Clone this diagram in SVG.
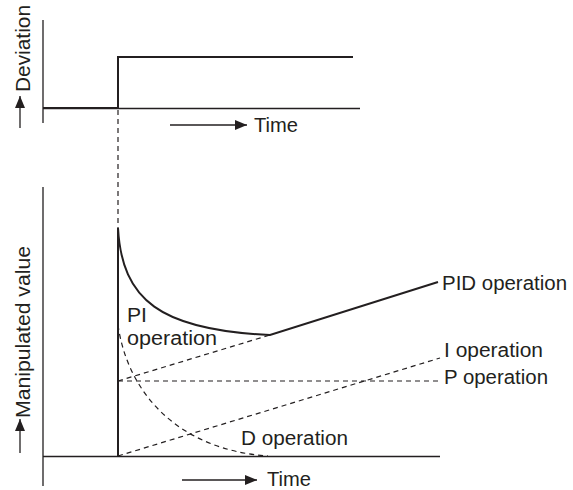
<svg xmlns="http://www.w3.org/2000/svg" width="573" height="490" viewBox="0 0 573 490">
  <defs>
    <marker id="arrow" viewBox="0 0 12 10" refX="12" refY="5" markerWidth="12" markerHeight="10" markerUnits="userSpaceOnUse" orient="auto">
      <path d="M0,0 L12,5 L0,10 Z" fill="#231f20"/>
    </marker>
  </defs>
  <style>
    .axis { stroke: #231f20; stroke-width: 1.3; fill: none; }
    .bold { stroke: #231f20; stroke-width: 2; fill: none; }
    .dash { stroke: #231f20; stroke-width: 1.2; fill: none; stroke-dasharray: 5 4; }
    .ptr { stroke: #231f20; stroke-width: 1.3; fill: none; marker-end: url(#arrow); }
    text { font-family: "Liberation Sans", Arial, sans-serif; font-size: 20px; fill: #231f20; }
  </style>
  <rect width="573" height="490" fill="#ffffff"/>

  <!-- Upper chart: step deviation -->
  <g id="deviation-chart">
    <path class="axis" d="M43,20 V123 M43,108.5 H360"/>
    <path class="bold" d="M43,108 H118 V57 H353"/>
    <path class="ptr" d="M20,128 V96"/>
    <text transform="translate(30,92) rotate(-90)" textLength="87" lengthAdjust="spacingAndGlyphs">Deviation</text>
    <path class="ptr" d="M170,125 H247"/>
    <text x="254" y="132" textLength="44" lengthAdjust="spacingAndGlyphs">Time</text>
  </g>

  <!-- Lower chart: manipulated value -->
  <g id="output-chart">
    <path class="axis" d="M43,187 V486 M43,456.5 H440"/>
    <path class="ptr" d="M20,453 V419"/>
    <text transform="translate(30,418) rotate(-90)" textLength="172" lengthAdjust="spacingAndGlyphs">Manipulated value</text>
    <path class="ptr" d="M182,480 H257"/>
    <text x="267" y="486" textLength="44" lengthAdjust="spacingAndGlyphs">Time</text>
  </g>

  <g id="connectors">
    <!-- step instant carried down to the output -->
    <path class="dash" d="M118,110 V228"/>
    <!-- P operation -->
    <path class="dash" d="M118,381 H440"/>
    <!-- I operation -->
    <path class="dash" d="M118,456 L440,358"/>
    <!-- PI operation -->
    <path class="dash" d="M118,381 L270,335"/>
    <!-- D operation -->
    <path class="dash" d="M118,325 C128,395 180,450 268,456"/>
  </g>

  <g id="pid-curve">
    <path class="bold" d="M118,456 V228 C122,300 160,330 270,335 L438,282"/>
  </g>

  <g id="labels">
    <text x="442" y="290" textLength="125" lengthAdjust="spacingAndGlyphs">PID operation</text>
    <text x="444" y="357" textLength="99" lengthAdjust="spacingAndGlyphs">I operation</text>
    <text x="444" y="384" textLength="104" lengthAdjust="spacingAndGlyphs">P operation</text>
    <text x="127" y="322" textLength="20" lengthAdjust="spacingAndGlyphs">PI</text>
    <text x="127" y="345" textLength="90" lengthAdjust="spacingAndGlyphs">operation</text>
    <text x="241" y="445" textLength="107" lengthAdjust="spacingAndGlyphs">D operation</text>
  </g>
</svg>
